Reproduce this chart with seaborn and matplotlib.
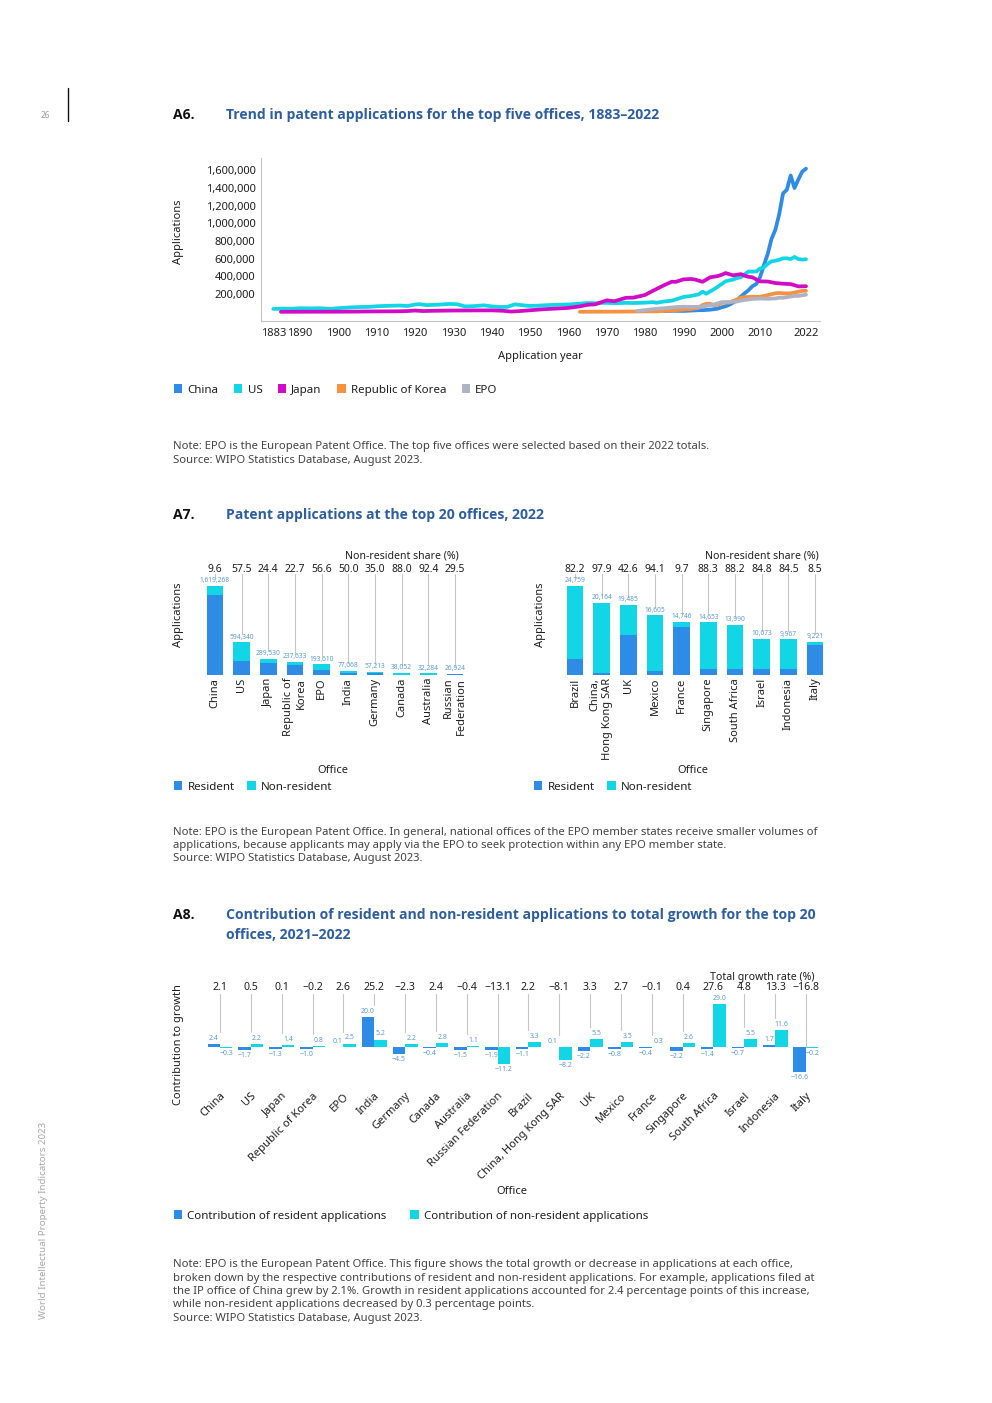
import numpy as np
import pandas as pd
import matplotlib
matplotlib.use("Agg")
import matplotlib.pyplot as plt
import seaborn as sns
from matplotlib.patches import Patch
from matplotlib.lines import Line2D
from matplotlib.ticker import FuncFormatter

# ---------------- DATA ----------------
# A6: trend in applications
cn_years = [1985, 1987, 1990, 1992, 1994, 1995, 1997, 1999, 2000, 2001, 2002, 2003, 2004, 2005, 2006,
            2007, 2008, 2009, 2010, 2011, 2012, 2013, 2014, 2015, 2016, 2017, 2018, 2019, 2020, 2021, 2022]
cn_apps = [8558, 12000, 10137, 14409, 19067, 18699, 24774, 36694, 51747, 63204, 80232, 105318, 130133,
           173327, 210490, 245161, 289838, 314573, 391177, 526412, 652777, 825136, 928177, 1101864,
           1338503, 1381594, 1542002, 1400661, 1497159, 1585663, 1619268]

us_years = [1883, 1885, 1888, 1890, 1893, 1895, 1898, 1900, 1903, 1905, 1908, 1910, 1913, 1916, 1918,
            1920, 1921, 1923, 1926, 1929, 1931, 1933, 1935, 1938, 1940, 1942, 1944, 1946, 1947, 1949,
            1950, 1952, 1955, 1957, 1960, 1962, 1965, 1967, 1970, 1972, 1975, 1977, 1980, 1982, 1983,
            1985, 1987, 1988, 1990, 1992, 1994, 1995, 1996, 1997, 1998, 2000, 2001, 2002, 2003, 2004,
            2005, 2006, 2007, 2008, 2009, 2010, 2011, 2012, 2013, 2014, 2015, 2016, 2017, 2018, 2019,
            2020, 2021, 2022]
us_apps = [33000, 35700, 35800, 41000, 39000, 41400, 34000, 42000, 50200, 54000, 56600, 63300, 68100,
           71500, 66000, 82400, 87500, 76000, 81000, 89800, 86000, 62000, 64000, 74000, 62000, 55000,
           56000, 84000, 80000, 70000, 67000, 70000, 77000, 80000, 84000, 90000, 100000, 98000, 102000,
           98000, 102000, 100000, 104000, 110000, 103000, 117000, 127000, 140000, 168000, 180000,
           198000, 228000, 205000, 232000, 255000, 315000, 345000, 356000, 366000, 382000, 390000,
           425000, 456000, 456000, 456000, 490000, 503000, 542000, 571000, 578000, 589000, 605000,
           606000, 597000, 621000, 597000, 591000, 594340]

jp_years = [1885, 1890, 1895, 1900, 1905, 1910, 1915, 1918, 1920, 1922, 1925, 1930, 1935, 1940, 1943,
            1945, 1947, 1950, 1953, 1955, 1958, 1960, 1963, 1965, 1967, 1970, 1972, 1975, 1977, 1980,
            1982, 1985, 1987, 1988, 1990, 1992, 1993, 1995, 1997, 1999, 2000, 2001, 2003, 2005, 2006,
            2007, 2008, 2010, 2012, 2014, 2016, 2018, 2020, 2021, 2022]
jp_apps = [400, 1200, 1500, 2000, 3000, 5000, 6000, 9000, 15000, 9000, 12000, 15000, 16000, 17000,
           12000, 3000, 8000, 18000, 28000, 33000, 40000, 45000, 62000, 80000, 85000, 130000, 120000,
           159000, 161000, 191000, 237000, 302000, 341000, 339000, 367000, 372000, 366000, 340000,
           391000, 405000, 419000, 439000, 413000, 427000, 409000, 396000, 391000, 345000, 343000,
           326000, 318000, 314000, 288000, 289000, 289530]

kr_years = [1963, 1965, 1970, 1975, 1980, 1983, 1985, 1987, 1990, 1992, 1994, 1995, 1996, 1997, 1998,
            1999, 2000, 2002, 2004, 2005, 2006, 2008, 2010, 2012, 2014, 2015, 2016, 2018, 2019, 2020,
            2021, 2022]
kr_apps = [1000, 1500, 2000, 3000, 5000, 6000, 10600, 17000, 25800, 31000, 45700, 78500, 90300, 92700,
           75200, 80600, 102000, 106000, 140000, 160900, 166000, 170600, 170100, 188900, 210300,
           213700, 208800, 209900, 218900, 226800, 237900, 237633]

epo_years = [1978, 1980, 1983, 1985, 1988, 1990, 1993, 1995, 1998, 2000, 2002, 2004, 2005, 2007, 2008,
             2010, 2012, 2014, 2015, 2016, 2018, 2019, 2020, 2021, 2022]
epo_apps = [10000, 20000, 35000, 41000, 54000, 58000, 56000, 60000, 83000, 110000, 110000, 117000,
            128000, 141000, 146000, 151000, 148000, 152000, 160000, 159000, 174000, 181000, 180000,
            188000, 193610]

a6_names = ["China", "US", "Japan", "Republic of Korea", "EPO"]
a6_xticks = [1883, 1890, 1900, 1910, 1920, 1930, 1940, 1950, 1960, 1970, 1980, 1990, 2000, 2010, 2022]
a6_yticks = [200000, 400000, 600000, 800000, 1000000, 1200000, 1400000, 1600000]

# A7: applications at the top 20 offices, 2022
a7_left_offices = ["China", "US", "Japan", "Republic of\nKorea", "EPO", "India", "Germany", "Canada",
                   "Australia", "Russian\nFederation"]
a7_left_totals = [1619268, 594340, 289530, 237633, 193610, 77068, 57213, 38052, 32284, 26924]
a7_left_share = [9.6, 57.5, 24.4, 22.7, 56.6, 50.0, 35.0, 88.0, 92.4, 29.5]

a7_right_offices = ["Brazil", "China,\nHong Kong SAR", "UK", "Mexico", "France", "Singapore",
                    "South Africa", "Israel", "Indonesia", "Italy"]
a7_right_totals = [24759, 20164, 19485, 16605, 14746, 14653, 13990, 10073, 9967, 9221]
a7_right_share = [82.2, 97.9, 42.6, 94.1, 9.7, 88.3, 88.2, 84.8, 84.5, 8.5]

# A8: contributions to growth, 2021-2022
a8_offices = ["China", "US", "Japan", "Republic of Korea", "EPO", "India", "Germany", "Canada",
              "Australia", "Russian Federation", "Brazil", "China, Hong Kong SAR", "UK", "Mexico",
              "France", "Singapore", "South Africa", "Israel", "Indonesia", "Italy"]
a8_total = [2.1, 0.5, 0.1, -0.2, 2.6, 25.2, -2.3, 2.4, -0.4, -13.1, 2.2, -8.1, 3.3, 2.7, -0.1, 0.4,
            27.6, 4.8, 13.3, -16.8]
a8_resident = [2.4, -1.7, -1.3, -1.0, 0.1, 20.0, -4.5, -0.4, -1.5, -1.9, -1.1, 0.1, -2.2, -0.8, -0.4,
               -2.2, -1.4, -0.7, 1.7, -16.6]
a8_nonresident = [-0.3, 2.2, 1.4, 0.8, 2.5, 5.2, 2.2, 2.8, 1.1, -11.2, 3.3, -8.2, 5.5, 3.5, 0.3, 2.6,
                  29.0, 5.5, 11.6, -0.2]

# ---------------- STYLE ----------------
BLUE = "#2E8BE6"
CYAN = "#12D6E6"
MAGENTA = "#D20CC6"
ORANGE = "#F6923F"
GREY = "#AFB2C4"
LBLUE = "#5B9BD5"
TITLE_BLUE = "#2D5EA2"
TXT = "#1f1f1f"
NOTE = "#444444"
CONN = "#c6c6c6"
TITLE_FONT = ['Open Sans', 'Roboto', 'DejaVu Sans']

sns.set_theme(style="white")
plt.rcParams['font.family'] = ['Noto Sans', 'DejaVu Sans']
plt.rcParams['axes.unicode_minus'] = True

W, H = 992, 1403
fig = plt.figure(figsize=(W / 100, H / 100), dpi=100)


def fx(x):
    return x / W


def fy(y):
    return 1 - y / H


def rect(l, t, r, b):
    return [fx(l), fy(b), (r - l) / W, (b - t) / H]


def T(x, y, s, **kw):
    kw.setdefault('ha', 'left')
    kw.setdefault('va', 'center')
    kw.setdefault('color', TXT)
    fig.text(fx(x), fy(y), s, **kw)


def legend(x, y, labels, colors, colsp):
    handles = [Patch(facecolor=c, edgecolor='none') for c in colors]
    fig.legend(handles, labels, loc='center left', bbox_to_anchor=(fx(x), fy(y)), ncol=len(labels),
               frameon=False, fontsize=8.3, handlelength=0.72, handleheight=0.72, handletextpad=0.45,
               columnspacing=colsp, borderpad=0, borderaxespad=0, labelcolor=TXT)


def title(y, tag, lines):
    T(173, y, tag, fontsize=10.1, fontweight='bold', family=TITLE_FONT, color="#111111")
    for k, line in enumerate(lines):
        T(226, y + 20 * k, line, fontsize=10.1, fontweight='bold', family=TITLE_FONT, color=TITLE_BLUE)


def notes(y0, lines):
    for k, line in enumerate(lines):
        T(173, y0 + k * 13.3, line, fontsize=8.1, color=NOTE)


def mstr(v):
    return f"{v:.1f}".replace("-", "\u2212")


# ---------------- page furniture ----------------
T(45, 115, "26", fontsize=6, color="#9a9a9a", ha='center')
fig.add_artist(Line2D([fx(68), fx(68)], [fy(88), fy(121)], color="#111111", lw=1.0))
T(44, 1220, "World Intellectual Property Indicators 2023", fontsize=7, color="#a8a8a8",
  rotation=90, ha='center')

# ---------------- A6 ----------------
title(115, "A6.", ["Trend in patent applications for the top five offices, 1883\u20132022"])

ax6 = fig.add_axes(rect(261, 158, 820, 320.7))
series = [(cn_years, cn_apps), (us_years, us_apps), (jp_years, jp_apps), (kr_years, kr_apps),
          (epo_years, epo_apps)]
df6 = pd.concat([pd.DataFrame({'year': y, 'apps': a, 'office': n})
                 for n, (y, a) in zip(a6_names, series)], ignore_index=True)
pal6 = dict(zip(a6_names, [BLUE, CYAN, MAGENTA, ORANGE, GREY]))
sns.lineplot(data=df6, x='year', y='apps', hue='office', hue_order=a6_names, palette=pal6,
             linewidth=2.7, errorbar=None, legend=False, ax=ax6)
ax6.set_xlim(1879.8, 2025.65)
ax6.set_ylim(-100000, 1740000)
ax6.set_xticks(a6_xticks)
ax6.set_yticks(a6_yticks)
ax6.yaxis.set_major_formatter(FuncFormatter(lambda v, p: f"{int(v):,}"))
ax6.tick_params(axis='both', length=0, labelsize=8, labelcolor=TXT)
ax6.tick_params(axis='x', pad=5)
ax6.tick_params(axis='y', pad=4)
ax6.set_xlabel("")
ax6.set_ylabel("")
for s in ['top', 'right']:
    ax6.spines[s].set_visible(False)
for s in ['left', 'bottom']:
    ax6.spines[s].set_color('#c4c4c4')
    ax6.spines[s].set_linewidth(0.8)
T(179, 232, "Applications", fontsize=8, rotation=90, ha='center')
T(540, 357, "Application year", fontsize=8, ha='center')
legend(174, 390, a6_names, [BLUE, CYAN, MAGENTA, ORANGE, GREY], 1.35)

notes(447, ["Note: EPO is the European Patent Office. The top five offices were selected based on "
            "their 2022 totals.",
            "Source: WIPO Statistics Database, August 2023."])

# ---------------- A7 ----------------
title(515, "A7.", ["Patent applications at the top 20 offices, 2022"])

AX7_H = 130.0


def draw_a7(left_px, offices, totals, share):
    ax = fig.add_axes(rect(left_px, 545, left_px + 270, 675))
    n = len(offices)
    resident = [t * (1 - s / 100) for t, s in zip(totals, share)]
    sns.barplot(x=offices, y=totals, color=CYAN, saturation=1, width=0.625, errorbar=None,
                linewidth=0, ax=ax)
    sns.barplot(x=offices, y=resident, color=BLUE, saturation=1, width=0.625, errorbar=None,
                linewidth=0, ax=ax)
    top = max(totals) * AX7_H / 89.0
    per_px = top / AX7_H
    ax.set_ylim(0, top)
    ax.set_xlim(-0.5625, n - 1 + 0.5625)
    ax.bar_label(ax.containers[0], labels=[f"{t:,}" for t in totals], padding=1.2, fontsize=4.8,
                 color=LBLUE)
    trans = ax.get_xaxis_transform()
    line_top = 0.777 * top
    for i, (t, s) in enumerate(zip(totals, share)):
        ax.plot([i, i], [t + 8 * per_px, line_top], color=CONN, lw=0.8)
        ax.text(i, 0.815, f"{s:.1f}", transform=trans, ha='center', va='center', fontsize=7.5,
                color=TXT)
    ax.text(n - 1 + 0.15, 0.915, "Non-resident share (%)", transform=trans, ha='right', va='center',
            fontsize=7.6, color=TXT)
    ax.set_xticks(range(n))
    ax.set_xticklabels(offices, rotation=90, multialignment='right', fontsize=8, color=TXT)
    ax.tick_params(axis='x', length=0, pad=2)
    ax.set_yticks([])
    ax.set_xlabel("")
    ax.set_ylabel("")
    for s in ax.spines.values():
        s.set_visible(False)
    ax.patch.set_alpha(0)
    return ax


draw_a7(200, a7_left_offices, a7_left_totals, a7_left_share)
draw_a7(560, a7_right_offices, a7_right_totals, a7_right_share)
T(179, 615, "Applications", fontsize=8, rotation=90, ha='center')
T(540, 615, "Applications", fontsize=8, rotation=90, ha='center')
T(333, 770, "Office", fontsize=8, ha='center')
T(693, 770, "Office", fontsize=8, ha='center')
legend(174, 787, ["Resident", "Non-resident"], [BLUE, CYAN], 1.1)
legend(534, 787, ["Resident", "Non-resident"], [BLUE, CYAN], 1.1)

notes(832, ["Note: EPO is the European Patent Office. In general, national offices of the EPO member "
            "states receive smaller volumes of",
            "applications, because applicants may apply via the EPO to seek protection within any EPO "
            "member state.",
            "Source: WIPO Statistics Database, August 2023."])

# ---------------- A8 ----------------
title(915, "A8.", ["Contribution of resident and non-resident applications to total growth for the top 20",
                   "offices, 2021\u20132022"])

A8_TOP, A8_BOT = 968, 1085
ax8 = fig.add_axes(rect(190, A8_TOP, 830, A8_BOT))
n8 = len(a8_offices)
kinds = ["Contribution of resident applications", "Contribution of non-resident applications"]
df8 = pd.DataFrame({'office': a8_offices * 2,
                    'kind': [kinds[0]] * n8 + [kinds[1]] * n8,
                    'value': a8_resident + a8_nonresident})
sns.barplot(data=df8, x='office', y='value', hue='kind', hue_order=kinds, palette=[BLUE, CYAN],
            saturation=1, width=0.81, errorbar=None, linewidth=0, legend=False, ax=ax8)
px_per_unit = 1.5
ylo = -(A8_BOT - 1047.3) / px_per_unit
yhi = (1047.3 - A8_TOP) / px_per_unit
ax8.set_ylim(ylo, yhi)
ax8.set_xlim(-(220 - 190) / 30.84, (830 - 220) / 30.84)
for cont, vals in zip(ax8.containers, [a8_resident, a8_nonresident]):
    ax8.bar_label(cont, labels=[mstr(v) for v in vals], padding=1.5, fontsize=5, color=LBLUE)
trans8 = ax8.get_xaxis_transform()
line_top8 = ylo + 0.778 * (yhi - ylo)
for i, (tg, r, nr) in enumerate(zip(a8_total, a8_resident, a8_nonresident)):
    m = max(r, nr)
    bottom = m + 12 / px_per_unit if m > 0 else 0
    bottom = min(bottom, line_top8)
    ax8.plot([i, i], [bottom, line_top8], color=CONN, lw=0.8)
    ax8.text(i, 0.832, mstr(tg), transform=trans8, ha='center', va='center', fontsize=7.6, color=TXT)
ax8.text((815 - 220) / 30.84, 0.917, "Total growth rate (%)", transform=trans8, ha='right',
         va='center', fontsize=7.6, color=TXT)
ax8.set_xticks(range(n8))
ax8.set_xticklabels(a8_offices, rotation=45, ha='right', rotation_mode='anchor', fontsize=8,
                    color=TXT)
ax8.tick_params(axis='x', length=0, pad=4)
ax8.set_yticks([])
ax8.set_xlabel("")
ax8.set_ylabel("")
for s in ax8.spines.values():
    s.set_visible(False)
ax8.patch.set_alpha(0)
T(179, 1045, "Contribution to growth", fontsize=8, rotation=90, ha='center')
T(512, 1192, "Office", fontsize=8, ha='center')
legend(174, 1216, kinds, [BLUE, CYAN], 2.05)

notes(1265, ["Note: EPO is the European Patent Office. This figure shows the total growth or decrease in "
             "applications at each office,",
             "broken down by the respective contributions of resident and non-resident applications. For "
             "example, applications filed at",
             "the IP office of China grew by 2.1%. Growth in resident applications accounted for 2.4 "
             "percentage points of this increase,",
             "while non-resident applications decreased by 0.3 percentage points.",
             "Source: WIPO Statistics Database, August 2023."])

fig.savefig("out.png", dpi=100, facecolor='white')
